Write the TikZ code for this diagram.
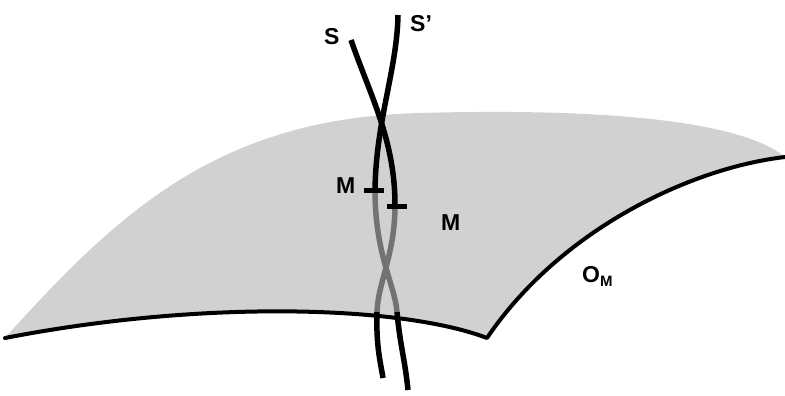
\documentclass[tikz,border=0pt]{standalone}
\usepackage{fontspec}
\setmainfont{Liberation Sans}
\begin{document}
\begin{tikzpicture}[x=1pt,y=-1pt,
  region/.style={fill=black!18},
  edge/.style={line width=4pt,line cap=round,line join=round},
  strand/.style={line width=5.5pt,black},
  faint/.style={line width=5.5pt,black!55},
  tick/.style={line width=5pt},
  lab/.style={anchor=base west,inner sep=0pt,font=\fontsize{23}{27}\selectfont\bfseries}]
\useasboundingbox (0,0) rectangle (785,396);
% region
\coordinate (A) at (5,338);
\coordinate (B) at (785,157);
\coordinate (C) at (487,338);
\fill[region] (A) .. controls (120,210) and (220,118) .. (420,113)
  .. controls (600,108) and (740,120) .. (B)
  .. controls (690,168) and (560,230) .. (C)
  .. controls (400,305) and (200,300) .. (A) -- cycle;
\draw[edge] (B) .. controls (690,168) and (560,230) .. (C)
  .. controls (400,305) and (200,300) .. (A);
% strands: gray middle parts
\draw[faint] (395,205) .. controls (395,255) and (378,282) .. (377,312);
\draw[faint] (375,190) .. controls (375,255) and (395,285) .. (397,312);
% strands: black parts
\draw[strand] (351,40) .. controls (370,95) and (395,140) .. (395,205);
\draw[strand] (398,15) .. controls (397,70) and (376,120) .. (375,190);
\draw[strand] (377,312) .. controls (376,345) and (380,360) .. (383,378);
\draw[strand] (397,312) .. controls (400,345) and (405,360) .. (408,390);
% ticks
\draw[tick] (364,190) -- (384,190);
\draw[tick] (387,206) -- (407,206);
% labels
\node[lab] (s) at (324,45) {S};
\node[lab] (sp) at (410,32) {S'};
\node[lab] (m1) at (336,193) {M};
\node[lab] (m2) at (441,230) {M};
\node[lab] (om) at (582,282) {O\raisebox{-4pt}{\fontsize{15}{18}\selectfont\bfseries M}};
\end{tikzpicture}
\end{document}
